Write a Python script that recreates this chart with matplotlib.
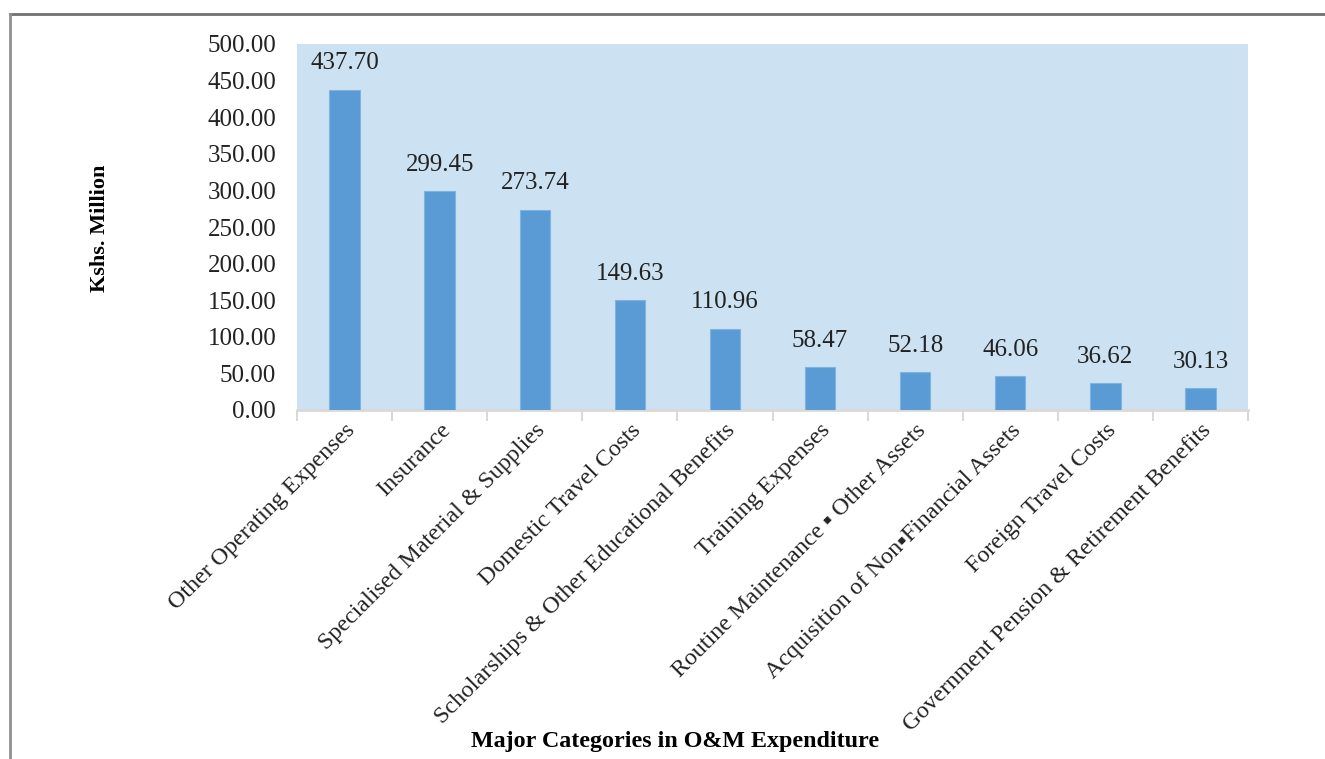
import matplotlib.pyplot as plt
from matplotlib.lines import Line2D
import numpy as np

plt.rcParams['font.family'] = ['Liberation Serif', 'DejaVu Sans']

categories = ['Other Operating Expenses', 'Insurance', 'Specialised Material & Supplies',
              'Domestic Travel Costs', 'Scholarships & Other Educational Benefits',
              'Training Expenses', 'Routine Maintenance \u25aa Other Assets',
              'Acquisition of Non\u25aaFinancial Assets', 'Foreign Travel Costs',
              'Government Pension & Retirement Benefits']
values = [437.70, 299.45, 273.74, 149.63, 110.96, 58.47, 52.18, 46.06, 36.62, 30.13]
yticks = np.arange(0, 501, 50)

fig = plt.figure(figsize=(13.25, 7.59), dpi=100)
ax = fig.add_axes([297/1325, 1 - 410/759, (1248-297)/1325, (410-44)/759])
ax.set_facecolor('#cce2f2')

x = np.arange(len(categories))
ax.bar(x, values, width=0.32, color='#5b9bd5', edgecolor='#7fb3e0', linewidth=0.8, zorder=3)
for xi, v in zip(x, values):
    ax.annotate(f'{v:.2f}', (xi, v), xytext=(0, 11), textcoords='offset points',
                ha='center', va='bottom', fontsize=18, color='#222222')

ax.set_xlim(-0.5, len(categories) - 0.5)
ax.set_ylim(0, 500)
ax.set_yticks(yticks)
ax.set_yticklabels([f'{t:.2f}' for t in yticks], fontsize=18, color='#222222')
ax.tick_params(axis='y', length=0, pad=15)

# category labels at bar centres, boundary ticks between categories
ax.set_xticks(x)
ax.set_xticklabels(categories, rotation=45, ha='right', rotation_mode='anchor',
                   fontsize=17.3, color='#222222')
ax.tick_params(axis='x', which='major', length=0, pad=7)
ax.set_xticks(np.arange(-0.5, len(categories)), minor=True)
ax.tick_params(axis='x', which='minor', length=8, width=1.5, color='#d9d9d9')

for s in ['top', 'right', 'left']:
    ax.spines[s].set_visible(False)
ax.spines['bottom'].set_color('#d9d9d9')
ax.spines['bottom'].set_linewidth(2)

fig.text(100/1325, 1 - 228/759, 'Kshs. Million', rotation=90, ha='center', va='center',
         fontsize=16, fontweight='bold')
fig.text(675/1325, 1 - 741/759, 'Major Categories in O&M Expenditure', ha='center',
         va='center', fontsize=17.3, fontweight='bold')

# page frame
fig.add_artist(Line2D([10/1325, 1], [1 - 14/759, 1 - 14/759], color='#707070', lw=2))
fig.add_artist(Line2D([10/1325, 10/1325], [0, 1 - 14/759], color='#909090', lw=2))

fig.savefig('out.png', dpi=100)
